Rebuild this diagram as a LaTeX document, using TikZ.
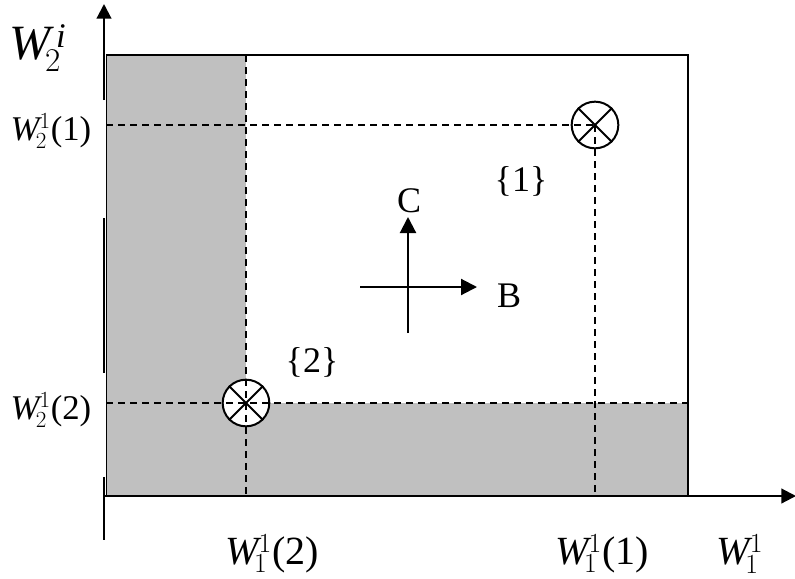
\documentclass[tikz,border=0pt]{standalone}
\usepackage{fontspec}
\setmainfont{Liberation Serif}
\usetikzlibrary{arrows.meta}
\definecolor{greyfill}{RGB}{192,192,192}
\begin{document}
\begin{tikzpicture}[x=0.75pt,y=-0.75pt,
  axis/.style={line width=1.6pt},
  frame/.style={line width=1.5pt},
  guide/.style={line width=1.3pt, dash pattern=on 5.5pt off 3.5pt},
  xcirc/.style={circle, draw, fill=white, line width=1.5pt, minimum size=35pt, inner sep=0pt},
  xline/.style={line width=1.5pt},
  bigtip/.style={-{Triangle[length=11pt,width=11pt]}},
  dirarrow/.style={line width=1.6pt, -{Triangle[length=12pt,width=12pt]}},
  lab/.style={font=\fontsize{26}{30}\selectfont, inner sep=0pt},
  hlab/.style={font=\fontsize{30}{34}\selectfont, inner sep=0pt},
  smlab/.style={font=\fontsize{27}{30}\selectfont, inner sep=0pt}]
\useasboundingbox (0,0) rectangle (795,578);
% shaded regions
\fill[greyfill] (106,55) rectangle (246,496);
\fill[greyfill] (106,403) rectangle (688,496);
\draw[line width=0.5pt] (106,55) -- (106,496);
% frame
\draw[frame] (106,55) -- (688,55) -- (688,496);
% axes
\coordinate (ytop) at (104,4);
\coordinate (xend) at (796,496);
\coordinate (o) at (104,496);
\draw[axis, bigtip] (104,100) -- (ytop);
\draw[axis] (104,218) -- (104,373);
\draw[axis] (104,477) -- (104,540);
\draw[axis, bigtip] (o) -- (xend);
% points
\node[xcirc] (p1) at (595,125) {};
\node[xcirc] (p2) at (246,403) {};
\coordinate (h1) at (106,125);
\coordinate (v1) at (595,496);
\coordinate (h2a) at (106,403);
\coordinate (h2b) at (688,403);
\coordinate (v2a) at (246,55);
\coordinate (v2b) at (246,496);
\draw[guide] (h1) -- (p1.center);
\draw[guide] (p1.center) -- (v1);
\draw[guide] (h2a) -- (h2b);
\draw[guide] (v2a) -- (v2b);
\draw[xline] (p1.north west) -- (p1.south east);
\draw[xline] (p1.north east) -- (p1.south west);
\draw[xline] (p2.north west) -- (p2.south east);
\draw[xline] (p2.north east) -- (p2.south west);
% direction cross
\coordinate (cb) at (408,333);
\coordinate (ct) at (408,217);
\coordinate (bl) at (360,287);
\coordinate (br) at (477,287);
\draw[dirarrow] (cb) -- (ct);
\draw[dirarrow] (bl) -- (br);
\node[smlab] (C) at (409,201) {C};
\node[smlab] (B) at (509,296) {B};
\node[smlab] (s1) at (521,181) {\{1\}};
\node[smlab] (s2) at (312,362) {\{2\}};
% axis labels
\node[font=\fontsize{37}{40}\selectfont, inner sep=0pt] (w2i) at (38,48) {$\mathit{W}_{\!2}^{\,\mathit{i}}$};
\node[lab] (w211) at (51,131) {$\mathit{W}_{\!2}^{1}$(1)};
\node[lab] (w212) at (51,410) {$\mathit{W}_{\!2}^{1}$(2)};
\node[hlab] (w112) at (272,554) {$\mathit{W}_{\!1}^{1}$(2)};
\node[hlab] (w111) at (602,554) {$\mathit{W}_{\!1}^{1}$(1)};
\node[hlab] (w1) at (740,554) {$\mathit{W}_{\!1}^{1}$};
\end{tikzpicture}
\end{document}
